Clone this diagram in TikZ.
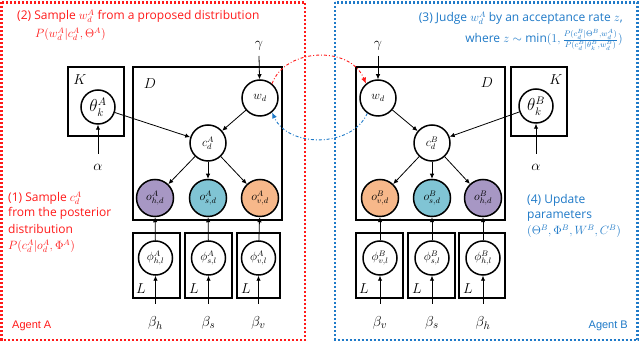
\documentclass[tikz,border=0pt]{standalone}
\usepackage{fontspec}
\setmainfont{Open Sans}
\newfontfamily\agentfont{Liberation Sans}
\usetikzlibrary{arrows.meta}
\definecolor{redA}{HTML}{FF1A1A}
\definecolor{blueB}{HTML}{1F7AC8}
\definecolor{purp}{HTML}{A797C4}
\definecolor{cyanb}{HTML}{80C4D4}
\definecolor{orng}{HTML}{F7B88A}
\tikzset{
  var/.style={circle,draw,line width=1.5pt,minimum size=36pt,inner sep=0pt,font=\fontsize{12}{14}\selectfont},
  smallvar/.style={var,minimum size=34pt},
  plate/.style={draw,line width=1.6pt},
  arr/.style={-{Latex[length=5pt,width=4.5pt]},line width=0.8pt},
  greek/.style={font=\fontsize{15}{17}\selectfont},
  platelbl/.style={font=\fontsize{14}{16}\selectfont},
  redtxt/.style={text=redA,font=\fontsize{12}{14}\selectfont,inner sep=0pt},
  bluetxt/.style={text=blueB,font=\fontsize{12}{14}\selectfont,inner sep=0pt},
  dotbox/.style={line width=2.4pt,dash pattern=on 2pt off 2pt},
}
\begin{document}
\begin{tikzpicture}[x=1pt,y=-1pt]
\useasboundingbox (0,0) rectangle (640,344);
\fill[white] (0,0) rectangle (640,344);
% agent boxes
\draw[dotbox,redA] (1.5,2.5) rectangle (305,340);
\draw[dotbox,blueB] (335,2.5) rectangle (637.5,340);

% ===== Agent A =====
\draw[plate] (68,67) rectangle (124,136);
\draw[plate] (133,67) rectangle (282,220);
\node[platelbl] (KA) at (80,80) {$K$};
\node[platelbl] (DA) at (150,84) {$D$};
\node[smallvar,font=\fontsize{16}{18}\selectfont] (thA) at (98,107) {$\theta_k^A$};
\node[greek] (alA) at (98,167) {$\alpha$};
\node[greek] (gaA) at (259,46) {$\gamma$};
\node[var] (wA) at (260,98) {$w_d$};
\node[var,fill=white] (cA) at (208,143) {$c_d^A$};
\node[var,fill=purp,minimum size=37pt] (ohA) at (155,198) {$o_{h,d}^A$};
\node[var,fill=cyanb,minimum size=37pt] (osA) at (208,198) {$o_{s,d}^A$};
\node[var,fill=orng,minimum size=37pt] (ovA) at (260,198) {$o_{v,d}^A$};
\draw[plate] (133,233) rectangle (180,298);
\draw[plate] (185,233) rectangle (232,298);
\draw[plate] (237,233) rectangle (280,298);
\node[smallvar] (phA) at (155.5,258) {$\phi_{h,l}^A$};
\node[smallvar] (psA) at (208.5,258) {$\phi_{s,l}^A$};
\node[smallvar] (pvA) at (258.5,258) {$\phi_{v,l}^A$};
\node[platelbl] (L1) at (141,289) {$L$};
\node[platelbl] (L2) at (194,289) {$L$};
\node[platelbl] (L3) at (246,289) {$L$};
\node[greek] (bhA) at (155.5,323) {$\beta_h$};
\node[greek] (bsA) at (208.5,323) {$\beta_s$};
\node[greek] (bvA) at (258.5,323) {$\beta_v$};
\coordinate (bhAt) at (155.5,304);
\coordinate (bsAt) at (208.5,304);
\coordinate (bvAt) at (258.5,304);
\coordinate (alAt) at (98,154);
\coordinate (gaAt) at (259,56);
\draw[arr] (alAt) -- (thA);
\draw[arr] (gaAt) -- (wA);
\draw[arr] (thA) -- (cA);
\draw[arr] (wA) -- (cA);
\draw[arr] (cA) -- (ohA);
\draw[arr] (cA) -- (osA);
\draw[arr] (cA) -- (ovA);
\draw[arr] (phA) -- (ohA);
\draw[arr] (psA) -- (osA);
\draw[arr] (pvA) -- (ovA);
\draw[arr] (bhAt) -- (phA);
\draw[arr] (bsAt) -- (psA);
\draw[arr] (bvAt) -- (pvA);

\node[redtxt,anchor=west] (t2a) at (17,16) {(2) Sample $w_d^A$ from a proposed distribution};
\node[redtxt,anchor=west] (t2b) at (35,34) {$P(w_d^A|c_d^A,\Theta^A)$};
\node[redtxt,anchor=west] (t1a) at (8,198) {(1) Sample $c_d^A$};
\node[redtxt,anchor=west] (t1b) at (8,213.5) {from the posterior};
\node[redtxt,anchor=west] (t1c) at (8,229) {distribution};
\node[redtxt,anchor=west] (t1d) at (8,246) {$P(c_d^A|o_d^A,\Phi^A)$};
\node[redtxt,anchor=west,font=\agentfont\fontsize{11}{13}\selectfont] (agA) at (12,326) {Agent A};

% ===== Agent B =====
\draw[plate] (356,67) rectangle (505,220);
\draw[plate] (511,67) rectangle (567,136);
\node[platelbl] (KB) at (556,80) {$K$};
\node[platelbl] (DB) at (487,83) {$D$};
\node[smallvar,font=\fontsize{16}{18}\selectfont] (thB) at (536,106) {$\theta_k^B$};
\node[greek] (alB) at (536,167) {$\alpha$};
\node[greek] (gaB) at (378,46) {$\gamma$};
\node[var] (wB) at (378,98) {$w_d$};
\node[var,fill=white] (cB) at (432,143) {$c_d^B$};
\node[var,fill=orng,minimum size=37pt] (ovB) at (380,198) {$o_{v,d}^B$};
\node[var,fill=cyanb,minimum size=37pt] (osB) at (432,198) {$o_{s,d}^B$};
\node[var,fill=purp,minimum size=37pt] (ohB) at (483,198) {$o_{h,d}^B$};
\draw[plate] (356,233) rectangle (403,298);
\draw[plate] (408,233) rectangle (455,298);
\draw[plate] (459,233) rectangle (505,298);
\node[smallvar] (pvB) at (380,258) {$\phi_{v,l}^B$};
\node[smallvar] (psB) at (432,258) {$\phi_{s,l}^B$};
\node[smallvar] (phB) at (483,258) {$\phi_{h,l}^B$};
\node[platelbl] (L4) at (364,289) {$L$};
\node[platelbl] (L5) at (417,289) {$L$};
\node[platelbl] (L6) at (468,289) {$L$};
\node[greek] (bvB) at (380,323) {$\beta_v$};
\node[greek] (bsB) at (432,323) {$\beta_s$};
\node[greek] (bhB) at (483,323) {$\beta_h$};
\coordinate (bvBt) at (380,304);
\coordinate (bsBt) at (432,304);
\coordinate (bhBt) at (483,304);
\coordinate (alBt) at (536,154);
\coordinate (gaBt) at (378,56);
\draw[arr] (alBt) -- (thB);
\draw[arr] (gaBt) -- (wB);
\draw[arr] (thB) -- (cB);
\draw[arr] (wB) -- (cB);
\draw[arr] (cB) -- (ovB);
\draw[arr] (cB) -- (osB);
\draw[arr] (cB) -- (ohB);
\draw[arr] (pvB) -- (ovB);
\draw[arr] (psB) -- (osB);
\draw[arr] (phB) -- (ohB);
\draw[arr] (bvBt) -- (pvB);
\draw[arr] (bsBt) -- (psB);
\draw[arr] (bhBt) -- (phB);

\node[bluetxt,anchor=east] (t3a) at (623,18) {(3) Judge $w_d^A$ by an acceptance rate $z$,};
\node[bluetxt,anchor=east] (t3b) at (623,40) {where $z\sim\min(1,\frac{P(c_d^B|\Theta^B,w_d^A)}{P(c_d^B|\theta_k^B,w_d^B)})$};
\node[bluetxt,anchor=west] (t4a) at (527,200) {(4) Update};
\node[bluetxt,anchor=west] (t4b) at (527,215.5) {parameters};
\node[bluetxt,anchor=west] (t4c) at (527,231) {$(\Theta^B,\Phi^B,W^B,C^B)$};
\node[bluetxt,anchor=east,font=\agentfont\fontsize{11}{13}\selectfont] (agB) at (628,326) {Agent B};

% exchange arrows
\draw[redA,line width=0.9pt,dash dot,-{Latex[length=6pt,width=5pt]}] (wA.50) .. controls (285,48) and (350,45) .. (wB.130);
\draw[blueB,line width=0.9pt,dash dot,-{Latex[length=6pt,width=5pt]}] (wB.235) .. controls (352,148) and (288,148) .. (wA.-50);
\end{tikzpicture}
\end{document}
